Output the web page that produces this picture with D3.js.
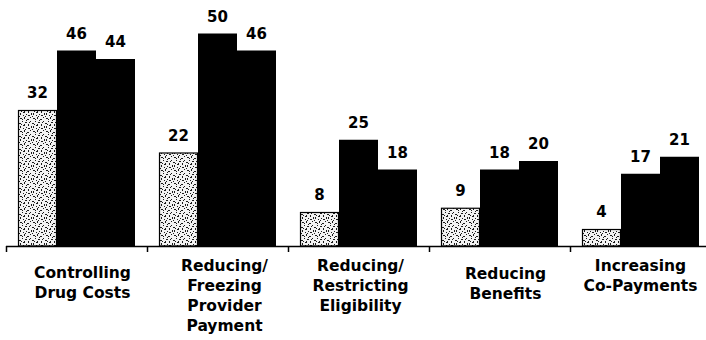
<!DOCTYPE html>
<html>
<head>
<meta charset="utf-8">
<script src="https://cdn.jsdelivr.net/npm/d3@7"></script>
<style>
  html, body { margin: 0; padding: 0; background: #fff; }
  svg { display: block; }
  text { font-family: "DejaVu Sans", "Liberation Sans", Arial, sans-serif; font-weight: bold; fill: #000; }
</style>
</head>
<body>
<svg id="chart" width="706" height="340"></svg>
<script>
// ---- data ----
const categories = [
  "Controlling Drug Costs",
  "Reducing/ Freezing Provider Payment",
  "Reducing/ Restricting Eligibility",
  "Reducing Benefits",
  "Increasing Co-Payments"
];
const categoryLines = [
  ["Controlling", "Drug Costs"],
  ["Reducing/", "Freezing", "Provider", "Payment"],
  ["Reducing/", "Restricting", "Eligibility"],
  ["Reducing", "Benefits"],
  ["Increasing", "Co-Payments"]
];
const seriesNames = ["s1", "s2", "s3"];
const series1 = [32, 22, 8, 9, 4];
const series2 = [46, 50, 25, 18, 17];
const series3 = [44, 46, 18, 20, 21];

// ---- layout ----
const W = 706, H = 340;
const baseY = 246;
const svg = d3.select("#chart");

const defs = svg.append("defs");
const pat = defs.append("pattern")
  .attr("id", "speckle")
  .attr("patternUnits", "userSpaceOnUse")
  .attr("width", 13).attr("height", 13);
pat.append("rect").attr("width", 13).attr("height", 13).attr("fill", "#f2f2f2");
const specks = [[1,1,2,1],[5,0,1,2],[8,2,2,1],[3,4,1,1],[0,6,2,1],[6,5,2,1],[9,7,1,2],[4,8,2,1],[1,9,1,2],[7,10,1,1],
                [3,2,1,1],[11,4,1,1],[5,7,1,1],[2,7,1,1],[11,0,1,1],[12,9,1,2],[9,11,2,1],[4,11,1,1],[10,5,1,1],[7,3,1,1],[0,12,1,1],[6,12,1,1]];
specks.forEach(s => pat.append("rect").attr("x", s[0]).attr("y", s[1]).attr("width", s[2]).attr("height", s[3]).attr("fill", "#1a1a1a"));

const x0 = d3.scaleBand().domain(categories).range([6, 711]).padding(0);
const x1 = d3.scaleBand().domain(seriesNames).range([12, x0.bandwidth() - 12]).padding(0);
const y = d3.scaleLinear().domain([0, 50]).range([baseY, 33.5]);

const data = categories.map((c, i) => ({
  cat: c,
  vals: [series1[i], series2[i], series3[i]]
}));

const groups = svg.selectAll("g.grp").data(data).enter().append("g")
  .attr("class", "grp")
  .attr("transform", d => `translate(${x0(d.cat)},0)`);

groups.selectAll("rect").data(d => d.vals.map((v, j) => ({ s: seriesNames[j], v, j })))
  .enter().append("rect")
  .attr("x", d => x1(d.s) + (d.j === 0 ? 0.5 : 0))
  .attr("y", d => y(d.v) + (d.j === 0 ? 0.5 : 0))
  .attr("width", d => x1.bandwidth() - (d.j === 0 ? 1 : 0))
  .attr("height", d => baseY - y(d.v) - (d.j === 0 ? 0.5 : 0))
  .attr("fill", d => d.j === 0 ? "url(#speckle)" : "#000")
  .attr("stroke", d => d.j === 0 ? "#000" : "none")
  .attr("stroke-width", 1.2);

groups.selectAll("text.val").data(d => d.vals.map((v, j) => ({ s: seriesNames[j], v })))
  .enter().append("text")
  .attr("class", "val")
  .attr("x", d => x1(d.s) + x1.bandwidth() / 2)
  .attr("y", d => y(d.v) - 12)
  .attr("text-anchor", "middle")
  .style("font-size", "15px")
  .text(d => d.v);

// axis
const axis = svg.append("g");
axis.append("line")
  .attr("x1", 6).attr("x2", W).attr("y1", baseY + 0.5).attr("y2", baseY + 0.5)
  .attr("stroke", "#000").attr("stroke-width", 1.6);
const tickXs = categories.map(c => x0(c)).concat([x0.range()[1]]);
axis.selectAll("line.tick").data(tickXs).enter().append("line")
  .attr("class", "tick")
  .attr("x1", d => d + 0.5).attr("x2", d => d + 0.5)
  .attr("y1", baseY).attr("y2", baseY + 6)
  .attr("stroke", "#000").attr("stroke-width", 1.5);

// category labels
const labelTop = [278, 271, 271, 279, 271];
const labelDx = [6, 7, 2, 6, 0];
svg.selectAll("text.cat").data(categoryLines).enter().append("text")
  .attr("class", "cat")
  .attr("text-anchor", "middle")
  .attr("transform", (d, i) => `translate(${x0(categories[i]) + x0.bandwidth() / 2 + labelDx[i]},${labelTop[i]})`)
  .style("font-size", "15.5px")
  .each(function(lines) {
    const t = d3.select(this);
    lines.forEach((ln, k) => t.append("tspan").attr("x", 0).attr("y", k * 20).text(ln));
  });
</script>
</body>
</html>
